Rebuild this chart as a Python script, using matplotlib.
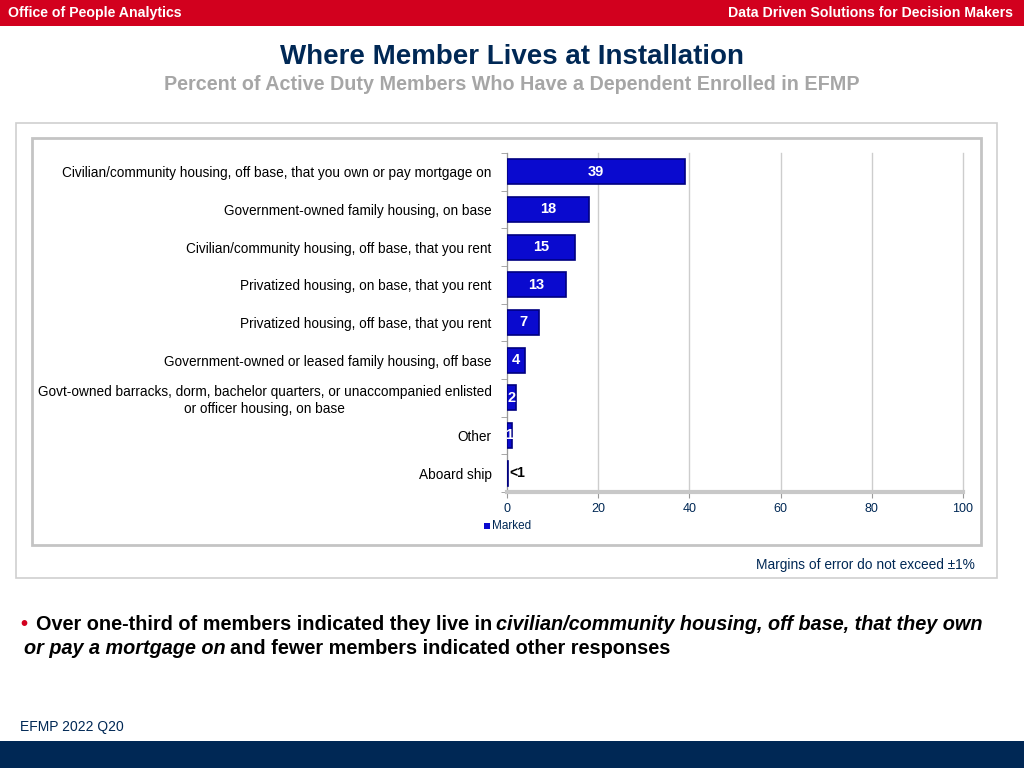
import matplotlib
matplotlib.use("Agg")
import matplotlib.pyplot as plt
from matplotlib.patches import Rectangle
import numpy as np

categories = [
    "Civilian/community housing, off base, that you own or pay mortgage on",
    "Government-owned family housing, on base",
    "Civilian/community housing, off base, that you rent",
    "Privatized housing, on base, that you rent",
    "Privatized housing, off base, that you rent",
    "Government-owned or leased family housing, off base",
    "Govt-owned barracks, dorm, bachelor quarters, or unaccompanied enlisted\nor officer housing, on base",
    "Other",
    "Aboard ship",
]
marked = [39, 18, 15, 13, 7, 4, 2, 1, 0.3]
value_labels = ["39", "18", "15", "13", "7", "4", "2", "1", "<1"]
x_ticks = [0, 20, 40, 60, 80, 100]

RED = "#D2001E"
NAVY = "#002855"
BAR = "#0A0ACF"
W, H = 1024, 768

plt.rcParams["font.family"] = ["Liberation Sans", "DejaVu Sans"]

fig = plt.figure(figsize=(W / 100, H / 100), dpi=100)


def fx(px):
    return px / W


def fy(py):
    return 1 - py / H


# header and footer bands
fig.patches.append(Rectangle((0, fy(26)), 1, 26 / H, transform=fig.transFigure,
                             facecolor=RED, edgecolor="none", zorder=0))
fig.patches.append(Rectangle((0, 0), 1, 27 / H, transform=fig.transFigure,
                             facecolor=NAVY, edgecolor="none", zorder=0))
fig.text(fx(8), fy(13), "Office of People Analytics", color="white",
         fontsize=10.2, fontweight="bold", va="center", ha="left")
fig.text(fx(1013), fy(13), "Data Driven Solutions for Decision Makers",
         color="white", fontsize=10.2, fontweight="bold", va="center",
         ha="right")

fig.text(0.5, fy(57), "Where Member Lives at Installation", color=NAVY,
         fontsize=20, fontweight="bold", ha="center", va="center")
fig.text(0.5, fy(85),
         "Percent of Active Duty Members Who Have a Dependent Enrolled in EFMP",
         color="#A6A6A6", fontsize=14.2, fontweight="bold", ha="center",
         va="center")

# frames around the chart
fig.patches.append(Rectangle((fx(16), fy(578)), fx(981), 455 / H,
                             transform=fig.transFigure, facecolor="none",
                             edgecolor="#CFCFCF", linewidth=1.2, zorder=0))
fig.patches.append(Rectangle((fx(32), fy(545)), fx(949), 407 / H,
                             transform=fig.transFigure, facecolor="none",
                             edgecolor="#C4C4C4", linewidth=2, zorder=0))

ax = fig.add_axes([fx(507), fy(492), fx(456), 339 / H])
y = np.arange(len(categories))
ax.barh(y, marked, height=0.66, color=BAR, edgecolor="#000080",
        linewidth=1.2, zorder=3)

for yi, v, lab in zip(y, marked, value_labels):
    if lab.startswith("<"):
        ax.text(0.6, yi, lab, color="black", fontsize=10, fontweight="bold",
                ha="left", va="center", zorder=4)
    else:
        ax.text(v / 2, yi, lab, color="white", fontsize=10.5,
                fontweight="bold", ha="center", va="center", zorder=4)

ax.set_xlim(0, 100)
ax.set_ylim(len(categories) - 0.5, -0.5)
ax.set_xticks(x_ticks)
ax.set_xticklabels([str(t) for t in x_ticks], color=NAVY, fontsize=9)
ax.set_yticks(y)
ax.set_yticklabels(categories, fontsize=9.8, multialignment="center")
ax.set_yticks(np.arange(len(categories) + 1) - 0.5, minor=True)
ax.tick_params(axis="y", which="major", length=0, pad=11)
ax.tick_params(axis="y", which="minor", length=4, color="#999999")
ax.tick_params(axis="x", length=4, color="#999999", pad=4)
ax.grid(axis="x", color="#CDCDCD", linewidth=1, zorder=0)
for line in ax.get_xgridlines():
    line.set_clip_on(False)
for s in ["top", "right"]:
    ax.spines[s].set_visible(False)
ax.spines["left"].set_color("#999999")
ax.spines["bottom"].set_color("#C8C8C8")
ax.spines["bottom"].set_linewidth(3)

# legend
fig.patches.append(Rectangle((fx(484), fy(529)), fx(6), 6 / H,
                             transform=fig.transFigure, facecolor=BAR,
                             edgecolor="none"))
fig.text(fx(492), fy(526), "Marked", color=NAVY, fontsize=8.5, va="center",
         ha="left")

fig.text(fx(975), fy(565), "Margins of error do not exceed \u00b11%",
         color=NAVY, fontsize=9.9, ha="right", va="center")


# bullet text, pieces chained one after another
def chain(prev, s, italic=False, gap=4):
    return ax.annotate(s, xy=(1, 0), xycoords=prev, xytext=(gap, 0),
                       textcoords="offset pixels", fontsize=14.3,
                       fontweight="bold",
                       style="italic" if italic else "normal",
                       ha="left", va="bottom", annotation_clip=False)


fig.text(fx(20), fy(624), "\u2022", color=RED, fontsize=14.3,
         fontweight="bold", ha="left", va="center")
t1 = fig.text(fx(36), fy(624),
              "Over one-third of members indicated they live in",
              fontsize=14.3, fontweight="bold", ha="left", va="center")
chain(t1, "civilian/community housing, off base, that they own", italic=True)
t2 = fig.text(fx(24), fy(648), "or pay a mortgage on", fontsize=14.3,
              fontweight="bold", style="italic", ha="left", va="center")
chain(t2, "and fewer members indicated other responses")

fig.text(fx(20), fy(727), "EFMP 2022 Q20", color=NAVY, fontsize=10,
         ha="left", va="center")

fig.savefig("out.png", dpi=100)
